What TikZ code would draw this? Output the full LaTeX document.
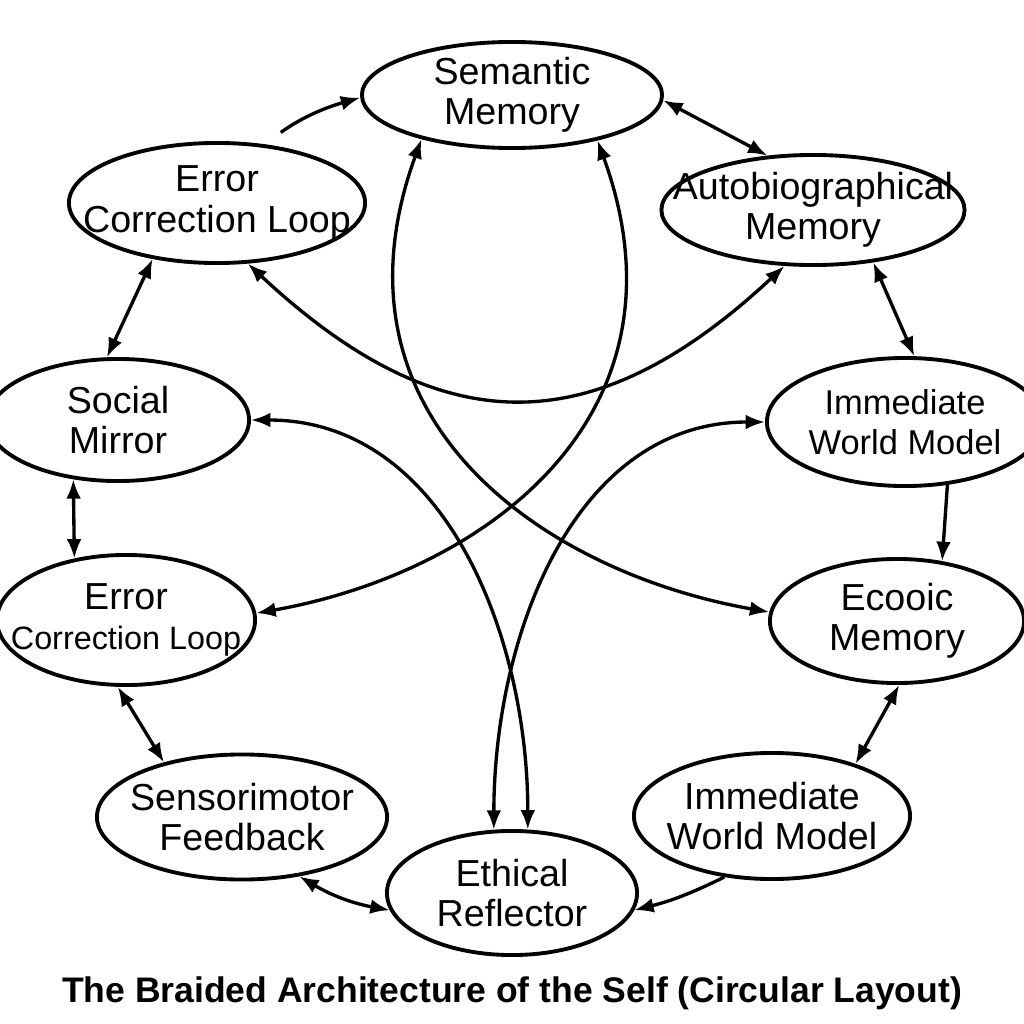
\documentclass[tikz,border=0pt]{standalone}
\usepackage{fontspec}
\setmainfont{Liberation Sans}
\usetikzlibrary{arrows.meta, shapes.geometric}

\begin{document}
\begin{tikzpicture}[
            x = 0.01cm, y = -0.01cm, % one unit = one pixel of the reference
            > = {Latex[length=5.5pt, width=4.2pt]}, % arrow head style
            line width = 0.95pt
        ]

        \tikzstyle{mem}=[
            ellipse,
            draw = black,
            line width = 1.1pt,
            inner xsep = -0.5cm, % size comes from minimum width/height only
            inner ysep = -0.2cm,
            align = center,
            font = \fontsize{10.7}{11.4}\selectfont
        ]

        \useasboundingbox (0,0) rectangle (1024,1024);

        \node[mem, minimum width=3cm,    minimum height=1.06cm] (sem)  at ( 512 ,  95 ) {Semantic\\Memory};
        \node[mem, minimum width=3.03cm, minimum height=1.1cm]  (auto) at ( 813 , 210 ) {Autobiographical\\Memory};
        \node[mem, minimum width=2.96cm, minimum height=1.2cm]  (errA) at ( 217 , 203 ) {Error\\Correction Loop};
        \node[mem, minimum width=2.62cm, minimum height=1.22cm] (soc)  at ( 118 , 420 ) {Social\\Mirror};
        \node[mem, minimum width=2.76cm, minimum height=1.28cm,
              font=\fontsize{9.8}{11.4}\selectfont]              (immA) at ( 905 , 422 ) {Immediate\\World Model};
        \node[mem, minimum width=2.58cm, minimum height=1.3cm]  (errB) at ( 126 , 620 ) {Error\\{\fontsize{9.2}{11}\selectfont Correction Loop}};
        \node[mem, minimum width=2.54cm, minimum height=1.24cm] (eco)  at ( 897 , 621 ) {Ecooic\\Memory};
        \node[mem, minimum width=2.9cm,  minimum height=1.25cm] (sens) at ( 242 , 817 ) {Sensorimotor\\Feedback};
        \node[mem, minimum width=2.76cm, minimum height=1.26cm] (immB) at ( 772 , 816 ) {Immediate\\World Model};
        \node[mem, minimum width=2.5cm,  minimum height=1.24cm] (eth)  at ( 512 , 893 ) {Ethical\\Reflector};

        % ring around the circle
        \path[->]  (errA.51)  edge [bend left=10, shorten <=0.2cm] (sem.181);
        \path[<->] (sem.358)  edge (auto.130);
        \path[<->] (errA.221) edge (soc.100);
        \path[<->] (auto.319) edge (immA.82);
        \path[<->] (soc.233)  edge (errB.130);
        \path[->]  (immA.304) edge (eco.53);
        \path[<->] (errB.263) edge (sens.145);
        \path[<->] (eco.272)  edge (immB.32);
        \path[<->] (sens.314) edge [bend right=10] (eth.188);
        \path[->]  (immB.232) edge [bend left=6] (eth.352);

        % braided strands across the middle
        \path[<->] (errA.297) edge [out=-43, in=-137, looseness=1.25] (auto.243);
        \path[<->] (sem.206)  edge [out=250, in=170, out looseness=1.3] (eco.176);
        \path[<->] (sem.332)  edge [out=290, in=10, out looseness=1.3] (errB.3);
        \path[<->] (soc.0)    edge [out=0, in=90] (eth.76);
        \path[<->] (immA.180) edge [out=180, in=90] (eth.106);

        \node[font=\bfseries\fontsize{10.1}{12}\selectfont] (title) at ( 512 , 993 ) {The Braided Architecture of the Self (Circular Layout)};

    \end{tikzpicture}
\end{document}
